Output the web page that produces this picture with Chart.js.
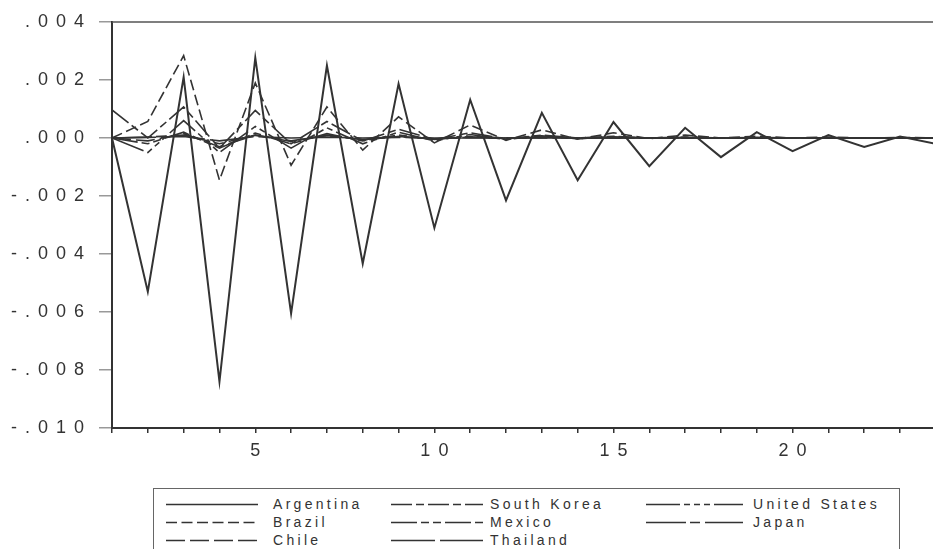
<!DOCTYPE html>
<html>
<head>
<meta charset="utf-8">
<script src="https://cdn.jsdelivr.net/npm/chart.js@4.4.1/dist/chart.umd.min.js"></script>
<style>
  html, body { margin: 0; padding: 0; background: #fff; width: 933px; height: 549px; overflow: hidden; }
  #wrap { position: absolute; left: 0; top: 0; width: 933px; height: 470px; }
  #legend { position: absolute; left: 153px; top: 488px; width: 747px; height: 80px;
            border: 1px solid #666; box-sizing: border-box; font-family: "Liberation Sans", Arial, sans-serif;
            font-size: 14px; letter-spacing: 3.3px; color: #333; }
  .item { position: absolute; height: 18px; line-height: 18px; white-space: nowrap; }
  .item svg { position: absolute; left: 0; top: 0; }
  .item span { position: absolute; top: 0; }
</style>
</head>
<body>
<div id="wrap"><canvas id="c"></canvas></div>
<div id="legend"></div>
<script>
// ---- data ----
const periods = [1,2,3,4,5,6,7,8,9,10,11,12,13,14,15,16,17,18,19,20,21,22,23,24];
const argentina    = [0, -0.0053, 0.0021, -0.0084, 0.00277, -0.00605, 0.0025, -0.00433, 0.00187, -0.0031, 0.00132, -0.00215, 0.00087, -0.00146, 0.00055, -0.00097, 0.00035, -0.00066, 0.0002, -0.00045, 0.0001, -0.00031, 0.00005, -0.0002];
const southKorea   = [0.00097, 0, 0.00107, -0.00035, 0.00095, -0.0002, 0.00057, -0.0001, 0.0003, -0.00005, 0.00018, -0.00003, 0.0001, 0, 0.00006, 0, 0.00003, 0, 0.00002, 0, 0, 0, 0, 0];
const unitedStates = [0, -0.0005, 0.0006, -0.0005, 0.0004, -0.00035, 0.00035, -0.0002, 0.0002, -0.0001, 0.00012, -0.00005, 0.00008, -0.00003, 0.00004, 0, 0.00002, 0, 0.00001, 0, 0, 0, 0, 0];
const brazil       = [0, 0.00057, 0.00284, -0.00145, 0.0019, -0.00094, 0.00107, -0.00042, 0.00073, -0.00017, 0.00045, -0.00008, 0.00028, -0.00004, 0.00018, -0.00002, 0.0001, 0, 0.00006, 0, 0.00003, 0, 0.00002, 0];
const mexico       = [0, -0.0002, 0.0002, -0.00035, 0.00017, -0.0002, 0.00015, -0.0001, 0.0001, -0.00005, 0.00005, -0.00002, 0.00003, 0, 0.00002, 0, 0, 0, 0, 0, 0, 0, 0, 0];
const japan        = [0, 0.00003, 0.0001, -0.0002, 0.0001, -0.0001, 0.00008, -0.00005, 0.00005, -0.00003, 0.00003, 0, 0.00002, 0, 0, 0, 0, 0, 0, 0, 0, 0, 0, 0];
const chile        = [0, -0.0001, 0.00015, -0.0003, 0.0001, -0.00012, 0.0001, -0.00006, 0.00005, -0.00003, 0.00003, 0, 0.00002, 0, 0, 0, 0, 0, 0, 0, 0, 0, 0, 0];
const thailand     = [0, 0.00002, 0.00005, -0.0001, 0.00005, 0, 0.00003, 0, 0.00002, 0, 0, 0, 0, 0, 0, 0, 0, 0, 0, 0, 0, 0, 0, 0];
const yTicks = { min: -0.010, max: 0.004, step: 0.002 };
const xLabelEvery = 5;

const seriesNames = ["Argentina","South Korea","United States","Brazil","Mexico","Japan","Chile","Thailand"];
const seriesValues = [argentina, southKorea, unitedStates, brazil, mexico, japan, chile, thailand];
const seriesDash = [[], [21,4,8,4], [34,4,6,4,6,4,6,4], [11,4.5], [26,4,8,4,8,4], [40,4,10,5], [19,5], [44,5]];
const seriesWidth = [2, 1.6, 1.6, 1.6, 1.6, 1.6, 1.6, 1.6];
const LINE = '#333';

const datasets = seriesNames.map((name, i) => ({
  label: name,
  data: periods.map((p, j) => ({ x: p, y: seriesValues[i][j] })),
  borderColor: LINE,
  borderWidth: seriesWidth[i],
  borderDash: seriesDash[i],
  pointRadius: 0,
  tension: 0,
  fill: false
}));
// draw the large series last so it sits on top
const order = [1,2,3,4,5,6,7,0];
const orderedDatasets = order.map(i => datasets[i]);

const LS = 8;
const frame = {
  id: 'frame',
  beforeDraw(chart) { chart.ctx.letterSpacing = LS + 'px'; },
  afterDraw(chart) {
    const { ctx, chartArea } = chart;
    ctx.save();
    ctx.strokeStyle = '#555';
    ctx.lineWidth = 1.5;
    ctx.beginPath();
    ctx.moveTo(chartArea.left, chartArea.top);
    ctx.lineTo(chartArea.right, chartArea.top);
    ctx.stroke();
    ctx.restore();
  }
};

new Chart(document.getElementById('c'), {
  type: 'line',
  data: { datasets: orderedDatasets },
  options: {
    responsive: true,
    maintainAspectRatio: false,
    animation: false,
    layout: { padding: { top: 22, right: 0, left: 0, bottom: 0 } },
    plugins: { legend: { display: false }, tooltip: { enabled: false } },
    scales: {
      x: {
        type: 'linear',
        min: 1,
        max: 23.92,
        afterFit(s) { s.height = 42; },
        grid: { drawOnChartArea: false, drawTicks: true, tickLength: 5, color: '#333', lineWidth: 1.5 },
        border: { display: true, color: '#333', width: 2 },
        ticks: {
          stepSize: 1,
          includeBounds: false,
          autoSkip: false,
          maxRotation: 0,
          padding: 7,
          labelOffset: LS / 2,
          color: '#333',
          font: { family: '"Liberation Sans", Arial, sans-serif', size: 18 },
          callback: (v) => (v % xLabelEvery === 0 ? String(v) : '')
        }
      },
      y: {
        min: yTicks.min,
        max: yTicks.max,
        afterFit(s) { s.width = 112; },
        grid: { drawOnChartArea: false, drawTicks: true, tickLength: 13, color: '#999', lineWidth: 1.5 },
        border: { display: true, color: '#333', width: 2 },
        ticks: {
          stepSize: yTicks.step,
          padding: 15 - LS,
          color: '#333',
          font: { family: '"Liberation Sans", Arial, sans-serif', size: 18 },
          callback: (v) => {
            let s = Number(v).toFixed(3).replace('0.', '.');
            if (s === '-.000') s = '.000';
            return s;
          }
        }
      }
    }
  },
  plugins: [frame]
});

// ---- HTML legend built from the datasets ----
const legendEl = document.getElementById('legend');
const colX = [12, 237, 492];      // sample start inside box
const textX = [119, 336, 599];    // text start inside box
const sampleW = [92, 92, 97];
const rowY = [6, 24, 42];
seriesNames.forEach((name, i) => {
  const col = i % 3, row = Math.floor(i / 3);
  const it = document.createElement('div');
  it.className = 'item';
  it.style.left = colX[col] + 'px';
  it.style.top = rowY[row] + 'px';
  const w = sampleW[col];
  const dash = seriesDash[i].length ? seriesDash[i].join(' ') : 'none';
  it.innerHTML = `<svg width="${w}" height="18"><line x1="0" y1="9.5" x2="${w}" y2="9.5" stroke="${LINE}" stroke-width="1.4" stroke-dasharray="${dash}"/></svg>`;
  const sp = document.createElement('span');
  sp.style.left = (textX[col] - colX[col]) + 'px';
  sp.textContent = name;
  it.appendChild(sp);
  legendEl.appendChild(it);
});
</script>
</body>
</html>
